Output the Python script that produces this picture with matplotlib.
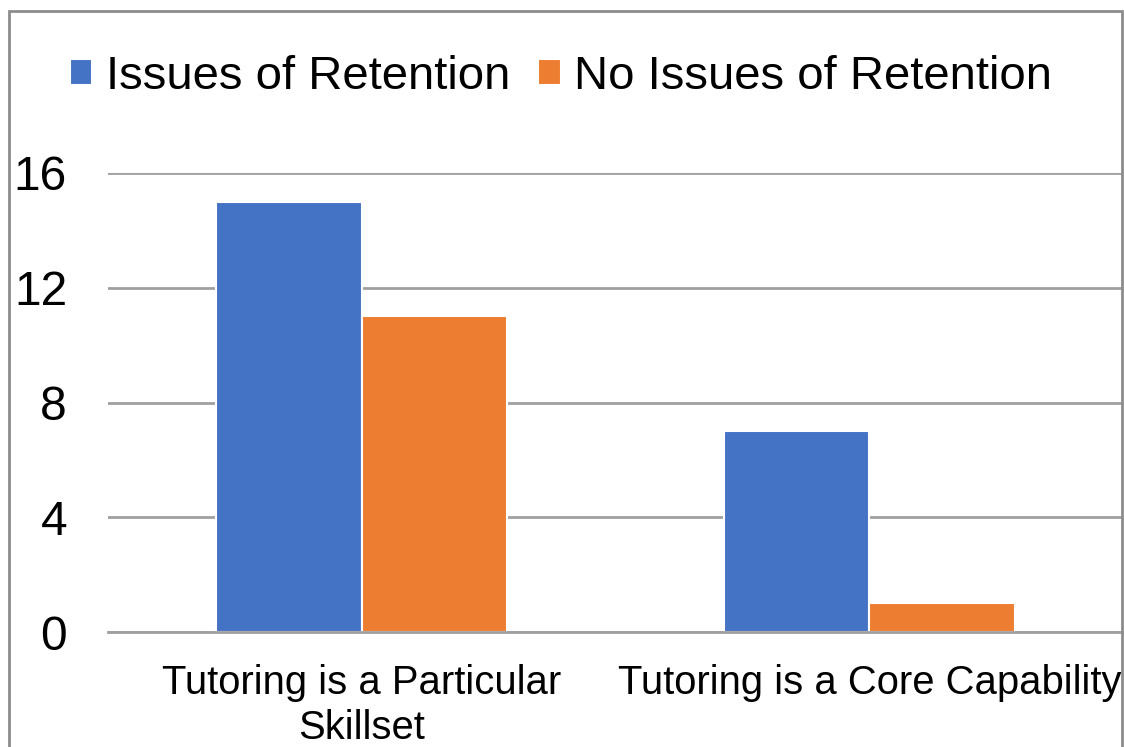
import matplotlib
matplotlib.use("Agg")
import matplotlib.pyplot as plt
import matplotlib.patches as mpatches
import numpy as np

plt.rcParams['font.family'] = ['Liberation Sans', 'DejaVu Sans']

categories = ["Tutoring is a Particular\nSkillset", "Tutoring is a Core Capability"]
series_names = ["Issues of Retention", "No Issues of Retention"]
issues = [15, 7]
no_issues = [11, 1]
yticks = [0, 4, 8, 12, 16]
colors = ["#4472C4", "#ED7D31"]

W, H = 1124, 747
fig = plt.figure(figsize=(W / 100, H / 100), dpi=100)
ax = fig.add_axes([108 / W, (H - 632) / H, (1123 - 108) / W, (632 - 173) / H])

x = np.arange(len(categories))
bw = 0.287
ax.bar(x - bw / 2, issues, bw, color=colors[0], edgecolor="white", linewidth=1.5,
       label=series_names[0], zorder=3)
ax.bar(x + bw / 2, no_issues, bw, color=colors[1], edgecolor="white", linewidth=1.5,
       label=series_names[1], zorder=3)

ax.set_xlim(-0.5, 1.5)
ax.set_ylim(0, 16)
ax.set_yticks(yticks)
ax.set_yticklabels([str(t) for t in yticks], fontsize=34.5)
ax.set_xticks(x)
ax.set_xticklabels(categories, fontsize=28.8, linespacing=1.24)
ax.tick_params(axis="y", length=0, pad=29.5)
ax.tick_params(axis="x", length=0, pad=23)
ax.grid(axis="y", color="#A0A0A0", linewidth=2, zorder=0)
for s in ["top", "right", "left"]:
    ax.spines[s].set_visible(False)
ax.spines["bottom"].set_color("#A0A0A0")
ax.spines["bottom"].set_linewidth(2)
ax.spines["bottom"].set_zorder(4)

leg = fig.legend(loc="center", bbox_to_anchor=(561 / W, (H - 77) / H), ncol=2,
                 frameon=False, fontsize=34, handlelength=0.47, handleheight=0.47,
                 handletextpad=0.28, columnspacing=0.6)

border = mpatches.Rectangle((9 / W, -0.02), (1122 - 9) / W, (H - 11) / H + 0.02,
                            transform=fig.transFigure, fill=False,
                            edgecolor="#8C8C8C", linewidth=2, clip_on=False)
fig.patches.append(border)

fig.savefig("out.png", dpi=100)
